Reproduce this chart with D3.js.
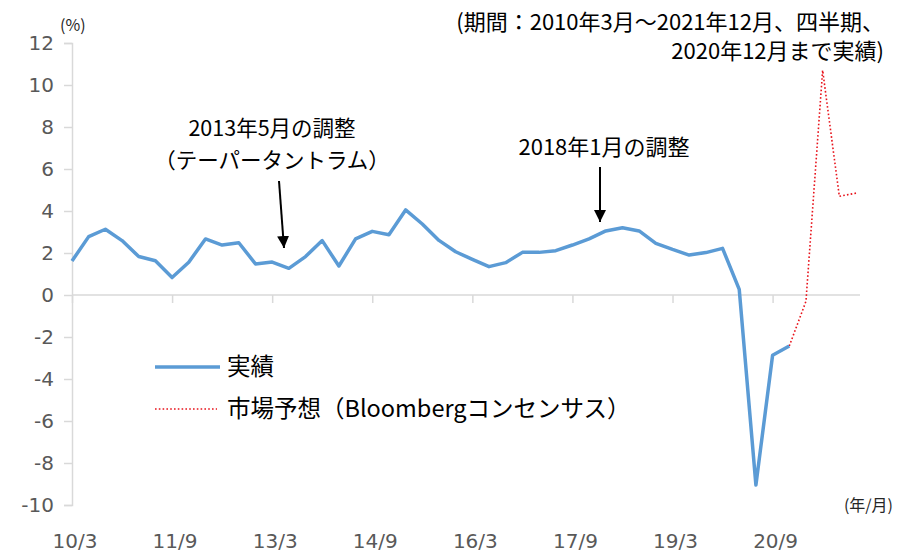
<!DOCTYPE html>
<html>
<head>
<meta charset="utf-8">
<script src="https://cdn.jsdelivr.net/npm/d3@7"></script>
<style>
  body { margin:0; background:#fff; }
  text { font-family: "Noto Sans CJK JP", "DejaVu Sans", sans-serif; }
</style>
</head>
<body>
<script>
// quarters 2010/3 .. 2021/12
var quarters = ["10/3","10/6","10/9","10/12","11/3","11/6","11/9","11/12",
  "12/3","12/6","12/9","12/12","13/3","13/6","13/9","13/12",
  "14/3","14/6","14/9","14/12","15/3","15/6","15/9","15/12",
  "16/3","16/6","16/9","16/12","17/3","17/6","17/9","17/12",
  "18/3","18/6","18/9","18/12","19/3","19/6","19/9","19/12",
  "20/3","20/6","20/9","20/12","21/3","21/6","21/9","21/12"];
var tickLabels = ["10/3","11/9","13/3","14/9","16/3","17/9","19/3","20/9"];
var yTicks = [-10,-8,-6,-4,-2,0,2,4,6,8,10,12];

// actual, 10/3 .. 20/12
var actual = [1.62,2.78,3.13,2.59,1.83,1.63,0.83,1.56,2.67,2.38,2.49,1.48,
  1.57,1.27,1.83,2.59,1.38,2.67,3.03,2.87,4.05,3.38,2.6,2.06,
  1.7,1.35,1.54,2.03,2.03,2.11,2.38,2.67,3.05,3.2,3.05,2.46,
  2.17,1.9,2.02,2.22,0.27,-9.05,-2.87,-2.43];
// market forecast, 20/12 .. 21/12
var forecastQ = ["20/12","21/3","21/6","21/9","21/12"];
var forecast = [-2.43,-0.3,10.7,4.7,4.85];

var W=906, H=552;
var svg = d3.select("body").append("svg").attr("width",W).attr("height",H);

var x = d3.scalePoint().domain(quarters).range([72,856]);
var y = d3.scaleLinear().domain([-10,12]).range([505,43]);

// y axis
var yAxis = svg.append("g").attr("transform","translate(72,0)")
  .call(d3.axisLeft(y).tickValues(yTicks).tickSize(8).tickPadding(10).tickFormat(function(d){ return String(d);}));
yAxis.select(".domain").attr("stroke","#d9d9d9").attr("stroke-width",1.5);
yAxis.selectAll(".tick line").attr("stroke","#d9d9d9").attr("stroke-width",1.5);
yAxis.selectAll(".tick text").attr("fill","#595959")
  .style("font-family","'DejaVu Sans', sans-serif").style("font-size","20px");

// x axis at zero
var xAxis = svg.append("g").attr("transform","translate(0,"+y(0)+")")
  .call(d3.axisBottom(x).tickValues(tickLabels).tickSize(8).tickSizeOuter(0).tickFormat(""));
xAxis.select(".domain").attr("d","M72,0H860").attr("stroke","#d9d9d9").attr("stroke-width",1.5);
xAxis.selectAll(".tick line").attr("stroke","#d9d9d9").attr("stroke-width",1.5);

svg.append("g").selectAll("text").data(tickLabels).enter().append("text")
  .attr("x",function(d){ return x(d)+3;}).attr("y",548)
  .attr("text-anchor","middle").attr("fill","#595959")
  .style("font-family","'DejaVu Sans', sans-serif").style("font-size","20px")
  .text(function(d){ return d;});

// lines
var line = d3.line().x(function(d){ return x(d.q);}).y(function(d){ return y(d.v);});
svg.append("path")
  .datum(forecast.map(function(v,i){ return {q:forecastQ[i], v:v};}))
  .attr("d",line).attr("fill","none").attr("stroke","#e8131b")
  .attr("stroke-width",1.6).attr("stroke-dasharray","1.6,2.2");
svg.append("path")
  .datum(actual.map(function(v,i){ return {q:quarters[i], v:v};}))
  .attr("d",line).attr("fill","none").attr("stroke","#5b9bd5")
  .attr("stroke-width",3.5).attr("stroke-linejoin","round");

// unit labels
svg.append("text").attr("x",60).attr("y",31).style("font-size","16px").attr("fill","#262626").text("(%)");
svg.append("text").attr("x",893).attr("y",511).attr("text-anchor","end").style("font-size","16px").attr("fill","#262626").text("(年/月)");

// note (two lines, one text)
var note = svg.append("text").attr("text-anchor","end").style("font-size","22px");
note.append("tspan").attr("x",884).attr("y",30).text("(期間：2010年3月～2021年12月、四半期、");
note.append("tspan").attr("x",884).attr("y",59).text("2020年12月まで実績)");

// annotations
var defs = svg.append("defs");
defs.append("marker").attr("id","ah").attr("viewBox","0 0 10 10").attr("refX",10).attr("refY",5)
  .attr("markerWidth",6).attr("markerHeight",6).attr("orient","auto")
  .append("path").attr("d","M0,0L10,5L0,10z").attr("fill","#000");

svg.append("text").attr("x",272).attr("y",136).attr("text-anchor","middle").style("font-size","21.5px").text("2013年5月の調整");
svg.append("text").attr("x",272).attr("y",168).attr("text-anchor","middle").style("font-size","21.5px").text("（テーパータントラム）");
svg.append("line").attr("x1",279).attr("y1",181).attr("x2",284).attr("y2",248)
  .attr("stroke","#000").attr("stroke-width",2).attr("marker-end","url(#ah)");

svg.append("text").attr("x",604).attr("y",155).attr("text-anchor","middle").style("font-size","22px").text("2018年1月の調整");
svg.append("line").attr("x1",600).attr("y1",167).attr("x2",600).attr("y2",222)
  .attr("stroke","#000").attr("stroke-width",2).attr("marker-end","url(#ah)");

// legend
var lg = svg.append("g");
lg.append("line").attr("x1",155).attr("x2",220).attr("y1",367).attr("y2",367).attr("stroke","#5b9bd5").attr("stroke-width",3.5);
lg.append("text").attr("x",227).attr("y",375).style("font-size","23.5px").text("実績");
lg.append("line").attr("x1",155).attr("x2",217).attr("y1",409).attr("y2",409).attr("stroke","#e8131b")
  .attr("stroke-width",1.6).attr("stroke-dasharray","1.6,2.2");
lg.append("text").attr("x",227).attr("y",417).style("font-size","23.5px").text("市場予想（Bloombergコンセンサス）");
</script>
</body>
</html>
